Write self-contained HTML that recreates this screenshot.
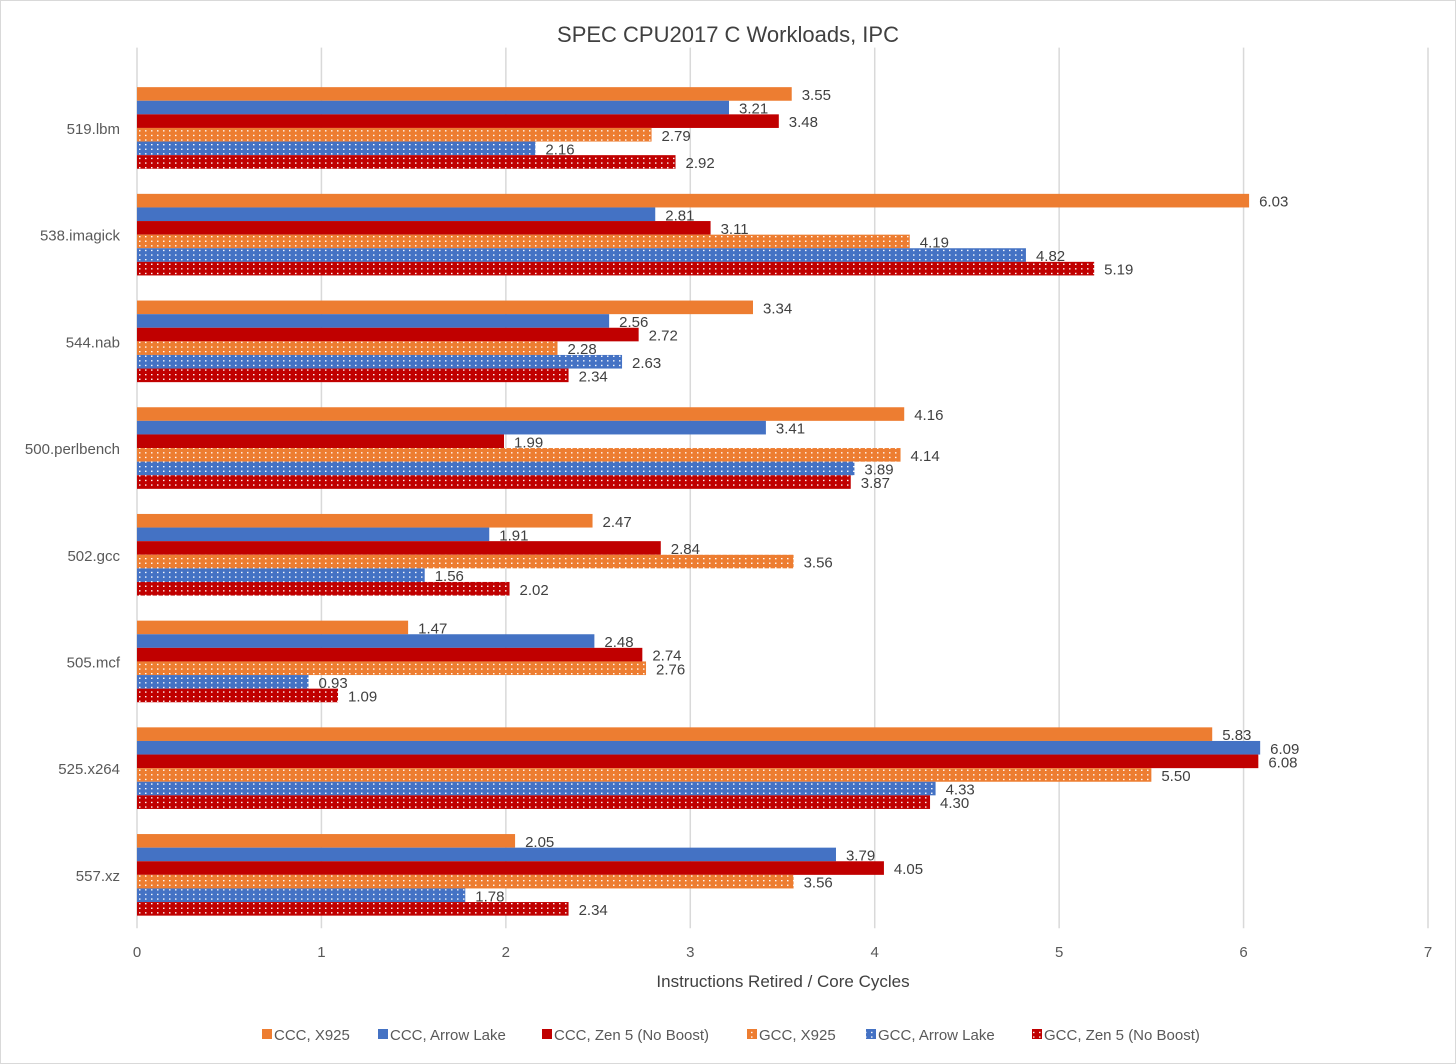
<!DOCTYPE html>
<html><head><meta charset="utf-8"><style>
html,body{margin:0;padding:0;background:#fff}
svg{display:block;font-family:"Liberation Sans",sans-serif}
</style></head><body>
<svg id="c" width="1456" height="1064">
<defs>
<pattern id="dots-o" width="6" height="4.6" patternUnits="userSpaceOnUse"><rect width="6" height="4.6" fill="#ED7D31"/><rect x="1" y="1.4" width="1.5" height="1.3" fill="#fff"/></pattern>
<pattern id="dots-b" width="6" height="4.6" patternUnits="userSpaceOnUse"><rect width="6" height="4.6" fill="#4472C4"/><rect x="1" y="1.4" width="1.5" height="1.3" fill="#fff"/></pattern>
<pattern id="dots-r" width="6" height="4.6" patternUnits="userSpaceOnUse"><rect width="6" height="4.6" fill="#C00000"/><rect x="1" y="1.4" width="1.5" height="1.3" fill="#fff"/></pattern>
</defs>
<rect x="0.5" y="0.5" width="1455" height="1063" fill="#fff" stroke="#d9d9d9"/>
<text x="728" y="42" text-anchor="middle" font-size="22" fill="#404040">SPEC CPU2017 C Workloads, IPC</text>
<text x="783" y="987" text-anchor="middle" font-size="17" fill="#404040">Instructions Retired / Core Cycles</text>
</svg>
<script>
const categories=["519.lbm","538.imagick","544.nab","500.perlbench","502.gcc","505.mcf","525.x264","557.xz"];
const seriesNames=["CCC, X925","CCC, Arrow Lake","CCC, Zen 5 (No Boost)","GCC, X925","GCC, Arrow Lake","GCC, Zen 5 (No Boost)"];
const cccX925=[3.55,6.03,3.34,4.16,2.47,1.47,5.83,2.05];
const cccArrow=[3.21,2.81,2.56,3.41,1.91,2.48,6.09,3.79];
const cccZen5=[3.48,3.11,2.72,1.99,2.84,2.74,6.08,4.05];
const gccX925=[2.79,4.19,2.28,4.14,3.56,2.76,5.50,3.56];
const gccArrow=[2.16,4.82,2.63,3.89,1.56,0.93,4.33,1.78];
const gccZen5=[2.92,5.19,2.34,3.87,2.02,1.09,4.30,2.34];
const xTicks=[0,1,2,3,4,5,6,7];
const series=[cccX925,cccArrow,cccZen5,gccX925,gccArrow,gccZen5];
const fills=["#ED7D31","#4472C4","#C00000","url(#dots-o)","url(#dots-b)","url(#dots-r)"];
const legendFills=["#ED7D31","#4472C4","#C00000","url(#dots-o)","url(#dots-b)","url(#dots-r)"];
const X0=137,X1=1428,XMAX=7,TOP=74.6,BAND=106.7,BH=13.6;
const x=v=>X0+(X1-X0)*v/XMAX;
const bandY=i=>TOP+i*BAND;
const svg=document.getElementById('c');
const NS="http://www.w3.org/2000/svg";
function mk(t,a){const e=document.createElementNS(NS,t);for(const k in a)e.setAttribute(k,a[k]);svg.appendChild(e);return e;}
xTicks.forEach(t=>{
  if(t>0){const g=mk('line',{x1:x(t),x2:x(t),y1:TOP-27,y2:TOP+8*BAND,stroke:'#d9d9d9','stroke-width':1.5});
  
  }
  const l=mk('text',{x:x(t),y:957,'text-anchor':'middle','font-size':15,fill:'#595959'});l.textContent=t;
  
  
});
const ax=mk('line',{x1:X0,x2:X0,y1:TOP-27,y2:TOP+8*BAND,stroke:'#d9d9d9','stroke-width':1.5});


categories.forEach((c,i)=>{
  const t=mk('text',{x:120,y:bandY(i)+BAND/2+6,'text-anchor':'end','font-size':15,fill:'#595959'});t.textContent=c;
  
  
  const y0=bandY(i)+BAND/2-3*BH;
  series.forEach((s,j)=>{
    const y=y0+j*BH;
    const r=mk('rect',{x:X0,y:y,width:x(s[i])-X0,height:BH,fill:fills[j]});
    
    
    const v=mk('text',{x:x(s[i])+10,y:y+BH/2+6,'font-size':15,fill:'#404040'});v.textContent=s[i].toFixed(2);
    
    
  });
});
const lx=[262,378,542,747,866,1032];
seriesNames.forEach((n,j)=>{
  const m=mk('rect',{x:lx[j],y:1029,width:10,height:10,fill:legendFills[j]});
  
  
  const t=mk('text',{x:lx[j]+12,y:1040,'font-size':15,fill:'#595959'});t.textContent=n;
  
  
});
</script>
</body></html>
